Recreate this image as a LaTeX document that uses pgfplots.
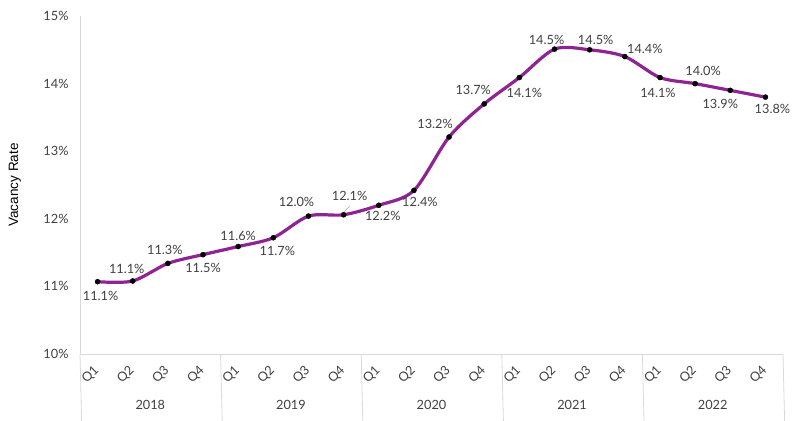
\documentclass[border=0pt]{standalone}
\usepackage{pgfplots}
\pgfplotsset{compat=1.18}
\usepackage{pgfplotstable}
\usepackage{fontspec}
\setmainfont{Lato}
\newfontfamily\arialfont{Liberation Sans}

\definecolor{vline}{RGB}{142,36,146}
\definecolor{txt}{RGB}{64,64,64}
\definecolor{axgray}{RGB}{217,217,217}

% x = quarter index (2018Q1 = 0), y = vacancy rate, lx/ly = label offset in bp
\pgfplotstableread{
x  y      lx   ly
0  11.07   3  -14
1  11.08  -6   12
2  11.34  -3   13
3  11.47   0  -13
4  11.59   0   11
5  11.72   4  -13
6  12.04 -12   14
7  12.06   6   19
8  12.20   4  -11
9  12.42   6  -12
10 13.21 -14   13
11 13.70 -11   14
12 14.09   5  -15
13 14.51  -8    9
14 14.50   6   10
15 14.40  20    8
16 14.09  -2  -15
17 14.00   8   13
18 13.90 -10  -14
19 13.80   7  -12
}\vacancy

\begin{document}
\begin{tikzpicture}[font=\fontsize{12.8}{15}\selectfont]
\useasboundingbox (-80bp,-67bp) rectangle (720bp,354bp);
\begin{axis}[
  at={(0,0)}, anchor=south west,
  scale only axis, width=703bp, height=338bp,
  xmin=-0.5, xmax=19.5, ymin=10, ymax=15,
  clip=false,
  axis x line*=bottom, axis y line*=left,
  axis line style={axgray, line width=0.8pt},
  xtick={0,...,19},
  xticklabels={Q1,Q2,Q3,Q4,Q1,Q2,Q3,Q4,Q1,Q2,Q3,Q4,Q1,Q2,Q3,Q4,Q1,Q2,Q3,Q4},
  ytick={10,11,12,13,14,15},
  yticklabel={\pgfmathprintnumber{\tick}\%},
  /pgf/number format/assume math mode=true,
  major tick length=0pt,
  tick style={draw=none},
  xticklabel style={anchor=center, inner sep=0pt, xshift=-7bp, yshift=-21bp, rotate=45, text=txt},
  yticklabel style={anchor=east, xshift=-8bp, text=txt},
  ylabel={Vacancy Rate},
  ylabel style={at={(axis description cs:-0.0925,0.5)}, anchor=center, rotate=0, text=black,
    font=\arialfont\fontsize{13.6}{16}\selectfont},
]
\addplot[vline, line width=3.2bp, smooth,
  mark=*, mark size=2.6bp,
  mark options={fill=black, draw=black, line width=0.3pt},
  point meta=y,
  visualization depends on={\thisrow{lx} \as \lx},
  visualization depends on={\thisrow{ly} \as \ly},
  nodes near coords={\pgfmathprintnumber[fixed, fixed zerofill, precision=1]{\pgfplotspointmeta}\%},
  every node near coord/.append style={anchor=center, xshift=\lx bp, yshift=\ly bp, text=txt, inner sep=0pt},
] table[x=x, y=y] {\vacancy};

% leader line for the 2019 Q4 label
\draw[gray!70, line width=0.5pt] (axis cs:7,12.06) ++(-0.6bp,2bp) -- ++(6.6bp,6.7bp);

% group separators and year labels
\draw[axgray, line width=0.8pt] (axis cs:-0.5,10) -- ++(0,-58bp);
\draw[axgray, line width=0.8pt] (axis cs:3.5,10) -- ++(0,-58bp);
\draw[axgray, line width=0.8pt] (axis cs:7.5,10) -- ++(0,-58bp);
\draw[axgray, line width=0.8pt] (axis cs:11.5,10) -- ++(0,-58bp);
\draw[axgray, line width=0.8pt] (axis cs:15.5,10) -- ++(0,-58bp);
\draw[axgray, line width=0.8pt] (axis cs:19.5,10) -- ++(0,-58bp);
\node[text=txt] at (axis cs:1.5,10) [yshift=-51bp] {2018};
\node[text=txt] at (axis cs:5.5,10) [yshift=-51bp] {2019};
\node[text=txt] at (axis cs:9.5,10) [yshift=-51bp] {2020};
\node[text=txt] at (axis cs:13.5,10) [yshift=-51bp] {2021};
\node[text=txt] at (axis cs:17.5,10) [yshift=-51bp] {2022};
\end{axis}
\end{tikzpicture}
\end{document}
